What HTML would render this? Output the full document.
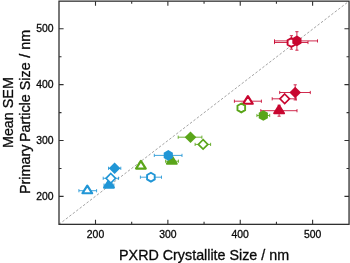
<!DOCTYPE html><html><head><meta charset="utf-8"><title>PXRD vs SEM</title>
<style>html,body{margin:0;padding:0;background:#fff;}svg{display:block}text{font-family:"Liberation Sans",sans-serif;fill:#0a0a0a;stroke:#0a0a0a;stroke-width:0.3px}</style></head><body>
<svg width="350" height="263" viewBox="0 0 350 263">
<rect width="350" height="263" fill="#fff"/>
<line x1="59.0" y1="224.35" x2="349.05" y2="1.15" stroke="#a4a4a4" stroke-width="1.0" stroke-dasharray="2.5 1.85"/>
<rect x="59.0" y="1.15" width="290.05" height="223.2" fill="none" stroke="#303030" stroke-width="1.3"/>
<path d="M95.50 224.35v-4.6M95.50 1.15v4.6M59.0 196.40h4.6M349.05 196.40h-4.6M131.69 224.35v-2.5M131.69 1.15v2.5M59.0 168.47h2.5M349.05 168.47h-2.5M167.87 224.35v-4.6M167.87 1.15v4.6M59.0 140.53h4.6M349.05 140.53h-4.6M204.06 224.35v-2.5M204.06 1.15v2.5M59.0 112.60h2.5M349.05 112.60h-2.5M240.24 224.35v-4.6M240.24 1.15v4.6M59.0 84.66h4.6M349.05 84.66h-4.6M276.43 224.35v-2.5M276.43 1.15v2.5M59.0 56.73h2.5M349.05 56.73h-2.5M312.61 224.35v-4.6M312.61 1.15v4.6M59.0 28.79h4.6M349.05 28.79h-4.6" stroke="#303030" stroke-width="1.1" fill="none"/>
<g style="filter:grayscale(1)">
<text x="95.50" y="238.2" font-size="10.4" text-anchor="middle">200</text>
<text x="53.6" y="200.00" font-size="10.4" text-anchor="end">200</text>
<text x="167.87" y="238.2" font-size="10.4" text-anchor="middle">300</text>
<text x="53.6" y="144.13" font-size="10.4" text-anchor="end">300</text>
<text x="240.24" y="238.2" font-size="10.4" text-anchor="middle">400</text>
<text x="53.6" y="88.26" font-size="10.4" text-anchor="end">400</text>
<text x="312.61" y="238.2" font-size="10.4" text-anchor="middle">500</text>
<text x="53.6" y="32.39" font-size="10.4" text-anchor="end">500</text>
<text x="204.1" y="259.6" font-size="14.3" text-anchor="middle">PXRD Crystallite Size / nm</text>
<text transform="translate(12.6 112.6) rotate(-90)" font-size="14.35" text-anchor="middle">Mean SEM</text>
<text transform="translate(29.8 111.9) rotate(-90)" font-size="14.35" text-anchor="middle">Primary<tspan dx="-1.4"> Particle Size</tspan><tspan dx="0.7"> / nm</tspan></text>
</g>
<path d="M78.9 190.7H96.6M78.9 189.1v3.2M96.6 189.1v3.2" stroke="#2196d6" stroke-width="0.85" fill="none"/>
<path d="M104.0 185.1H113.9M104.0 183.5v3.2M113.9 183.5v3.2" stroke="#2196d6" stroke-width="0.85" fill="none"/>
<path d="M165.6 161.2H178.4M165.6 159.6v3.2M178.4 159.6v3.2" stroke="#5aa519" stroke-width="0.85" fill="none"/>
<path d="M234.4 101.2H261.4M234.4 99.60000000000001v3.2M261.4 99.60000000000001v3.2" stroke="#c8062f" stroke-width="0.85" fill="none"/>
<path d="M260.8 110.7H297.0M260.8 109.10000000000001v3.2M297.0 109.10000000000001v3.2M279.1 105.2V116.2M277.5 105.2h3.2M277.5 116.2h3.2" stroke="#c8062f" stroke-width="0.85" fill="none"/>
<path d="M108.5 168.3H120.8M108.5 166.70000000000002v3.2M120.8 166.70000000000002v3.2" stroke="#2196d6" stroke-width="0.85" fill="none"/>
<path d="M103.2 178.3H118.5M103.2 176.70000000000002v3.2M118.5 176.70000000000002v3.2" stroke="#2196d6" stroke-width="0.85" fill="none"/>
<path d="M178.2 137.2H201.9M178.2 135.6v3.2M201.9 135.6v3.2" stroke="#5aa519" stroke-width="0.85" fill="none"/>
<path d="M195.1 144.4H210.6M195.1 142.8v3.2M210.6 142.8v3.2" stroke="#5aa519" stroke-width="0.85" fill="none"/>
<path d="M279.7 92.5H310.3M279.7 90.9v3.2M310.3 90.9v3.2M295.2 84.8V99.9M293.59999999999997 84.8h3.2M293.59999999999997 99.9h3.2" stroke="#c8062f" stroke-width="0.85" fill="none"/>
<path d="M272.2 98.8H296.2M272.2 97.2v3.2M296.2 97.2v3.2" stroke="#c8062f" stroke-width="0.85" fill="none"/>
<path d="M154.3 155.4H182.0M154.3 153.8v3.2M182.0 153.8v3.2" stroke="#2196d6" stroke-width="0.85" fill="none"/>
<path d="M140.4 177.2H161.5M140.4 175.6v3.2M161.5 175.6v3.2" stroke="#2196d6" stroke-width="0.85" fill="none"/>
<path d="M256.9 115.5H269.7M256.9 113.9v3.2M269.7 113.9v3.2" stroke="#5aa519" stroke-width="0.85" fill="none"/>
<path d="M274.5 42.5H308.0M274.5 40.9v3.2M308.0 40.9v3.2M291.4 35.7V49.2M289.79999999999995 35.7h3.2M289.79999999999995 49.2h3.2" stroke="#c8062f" stroke-width="0.85" fill="none"/>
<path d="M274.5 40.9H317.5M274.5 39.3v3.2M317.5 39.3v3.2M296.9 31.7V50.2M295.29999999999995 31.7h3.2M295.29999999999995 50.2h3.2" stroke="#c8062f" stroke-width="0.85" fill="none"/>
<polygon points="87.30,185.60 92.15,193.25 82.45,193.25" fill="#fff" stroke="#2196d6" stroke-width="2.2" stroke-linejoin="round"/>
<polygon points="109.00,180.00 113.85,187.65 104.15,187.65" fill="#2196d6" stroke="#2196d6" stroke-width="2.2" stroke-linejoin="round"/>
<polygon points="140.90,160.90 145.75,168.55 136.05,168.55" fill="#fff" stroke="#5aa519" stroke-width="2.2" stroke-linejoin="round"/>
<polygon points="171.80,156.10 176.65,163.75 166.95,163.75" fill="#5aa519" stroke="#5aa519" stroke-width="2.2" stroke-linejoin="round"/>
<polygon points="247.90,96.10 252.75,103.75 243.05,103.75" fill="#fff" stroke="#c8062f" stroke-width="2.2" stroke-linejoin="round"/>
<polygon points="279.10,105.60 283.95,113.25 274.25,113.25" fill="#c8062f" stroke="#c8062f" stroke-width="2.2" stroke-linejoin="round"/>
<polygon points="114.60,162.50 120.40,168.30 114.60,174.10 108.80,168.30" fill="#2196d6"/>
<polygon points="110.80,173.52 115.58,178.30 110.80,183.08 106.02,178.30" fill="#fff" stroke="#2196d6" stroke-width="1.65" stroke-linejoin="miter" stroke-miterlimit="10"/>
<polygon points="190.50,131.40 196.30,137.20 190.50,143.00 184.70,137.20" fill="#5aa519"/>
<polygon points="203.10,139.62 207.88,144.40 203.10,149.18 198.32,144.40" fill="#fff" stroke="#5aa519" stroke-width="1.65" stroke-linejoin="miter" stroke-miterlimit="10"/>
<polygon points="295.20,86.70 301.00,92.50 295.20,98.30 289.40,92.50" fill="#c8062f"/>
<polygon points="284.70,94.02 289.48,98.80 284.70,103.58 279.92,98.80" fill="#fff" stroke="#c8062f" stroke-width="1.65" stroke-linejoin="miter" stroke-miterlimit="10"/>
<polygon points="168.30,150.10 172.89,152.75 172.89,158.05 168.30,160.70 163.71,158.05 163.71,152.75" fill="#2196d6"/>
<polygon points="150.90,172.80 154.71,175.00 154.71,179.40 150.90,181.60 147.09,179.40 147.09,175.00" fill="#fff" stroke="#2196d6" stroke-width="1.9" stroke-linejoin="miter" stroke-miterlimit="10"/>
<polygon points="241.30,103.50 245.11,105.70 245.11,110.10 241.30,112.30 237.49,110.10 237.49,105.70" fill="#fff" stroke="#5aa519" stroke-width="1.9" stroke-linejoin="miter" stroke-miterlimit="10"/>
<polygon points="263.30,110.20 267.89,112.85 267.89,118.15 263.30,120.80 258.71,118.15 258.71,112.85" fill="#5aa519"/>
<polygon points="291.40,38.10 295.21,40.30 295.21,44.70 291.40,46.90 287.59,44.70 287.59,40.30" fill="#fff" stroke="#c8062f" stroke-width="1.9" stroke-linejoin="miter" stroke-miterlimit="10"/>
<polygon points="296.90,35.60 301.49,38.25 301.49,43.55 296.90,46.20 292.31,43.55 292.31,38.25" fill="#c8062f"/>
</svg></body></html>
